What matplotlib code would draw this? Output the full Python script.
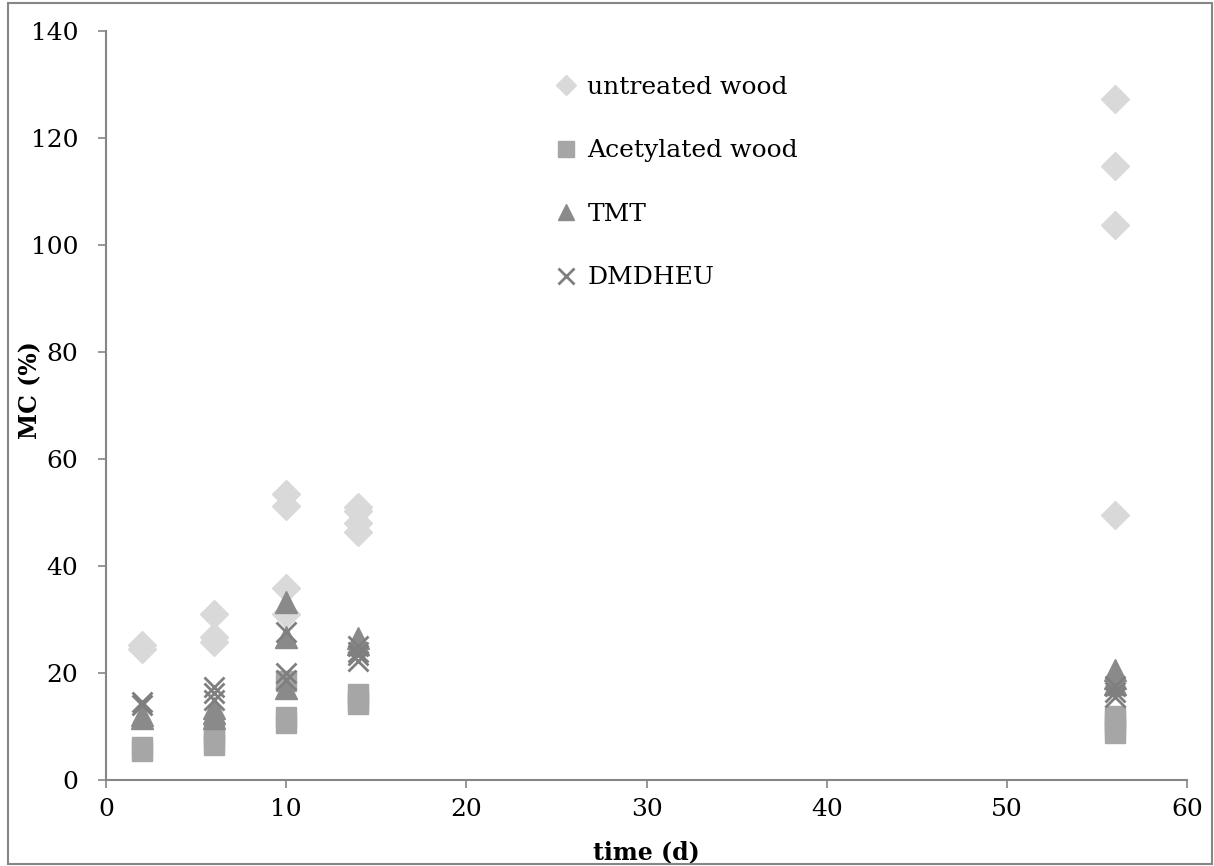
import matplotlib.pyplot as plt
from matplotlib.patches import Rectangle

# moisture content (%) read per exposure day
untreated_days = [2, 2, 6, 6, 6, 10, 10, 10, 10, 14, 14, 14, 14, 56, 56, 56, 56]
untreated_mc = [24.5, 25.3, 31.0, 26.8, 25.8, 53.5, 51.2, 35.8, 31.0,
                51.0, 50.2, 48.0, 46.3, 127.2, 114.8, 103.8, 49.5]

acetylated_days = [2, 2, 6, 6, 6, 10, 10, 10, 14, 14, 14, 56, 56, 56, 56]
acetylated_mc = [5.5, 6.2, 9.0, 7.5, 6.5, 11.8, 10.6, 18.5, 16.0, 15.0, 14.3,
                 12.0, 11.0, 10.0, 8.8]

tmt_days = [2, 2, 6, 6, 6, 10, 10, 10, 14, 14, 56, 56, 56]
tmt_mc = [11.5, 12.2, 13.5, 12.5, 11.5, 33.3, 26.8, 17.2, 26.5, 25.5,
          20.5, 19.0, 18.0]

dmdheu_days = [2, 2, 6, 6, 6, 10, 10, 10, 14, 14, 14, 14, 56, 56, 56]
dmdheu_mc = [14.6, 14.0, 17.4, 16.2, 15.0, 27.7, 20.0, 18.7, 25.0, 24.0, 23.3,
             22.3, 17.5, 16.5, 15.5]

plt.rcParams['font.family'] = ['DejaVu Serif']

fig = plt.figure(figsize=(12.14, 8.66), dpi=100)
ax = fig.add_axes([0.0873, 0.0993, 0.8905, 0.8649])

ax.plot(untreated_days, untreated_mc, ls='none', marker='D', ms=14,
        color='#d9d9d9', label='untreated wood')
ax.plot(acetylated_days, acetylated_mc, ls='none', marker='s', ms=15,
        color='#a6a6a6', label='Acetylated wood')
ax.plot(tmt_days, tmt_mc, ls='none', marker='^', ms=16,
        color='#8a8a8a', label='TMT')
ax.plot(dmdheu_days, dmdheu_mc, ls='none', marker='x', ms=15, mew=2,
        color='#7f7f7f', label='DMDHEU')

ax.set_xlim(0, 60)
ax.set_ylim(0, 140)
ax.set_xticks(range(0, 61, 10))
ax.set_yticks(range(0, 141, 20))

for side in ['top', 'right']:
    ax.spines[side].set_visible(False)
for side in ['left', 'bottom']:
    ax.spines[side].set_color('#868686')
    ax.spines[side].set_linewidth(1.5)
ax.tick_params(colors='#868686', labelcolor='black', length=6, width=1.2,
               labelsize=18)
ax.tick_params(axis='x', pad=7)
ax.tick_params(axis='y', pad=14)

ax.set_xlabel('time (d)', fontsize=17, fontweight='bold', labelpad=14)
ax.set_ylabel('MC (%)', fontsize=17, fontweight='bold')
ax.yaxis.set_label_coords(-0.059, 0.52)

leg = ax.legend(loc='upper left', bbox_to_anchor=(0.398, 0.97), frameon=False,
                fontsize=18, markerscale=0.75, handlelength=0.6,
                handletextpad=0.55, labelspacing=1.62)

# outer frame around the whole figure
fig.patches.append(Rectangle((0.007, 0.002), 0.991, 0.995, transform=fig.transFigure,
                             fill=False, edgecolor='#868686', lw=1.5))

fig.savefig('out.png', dpi=100)
